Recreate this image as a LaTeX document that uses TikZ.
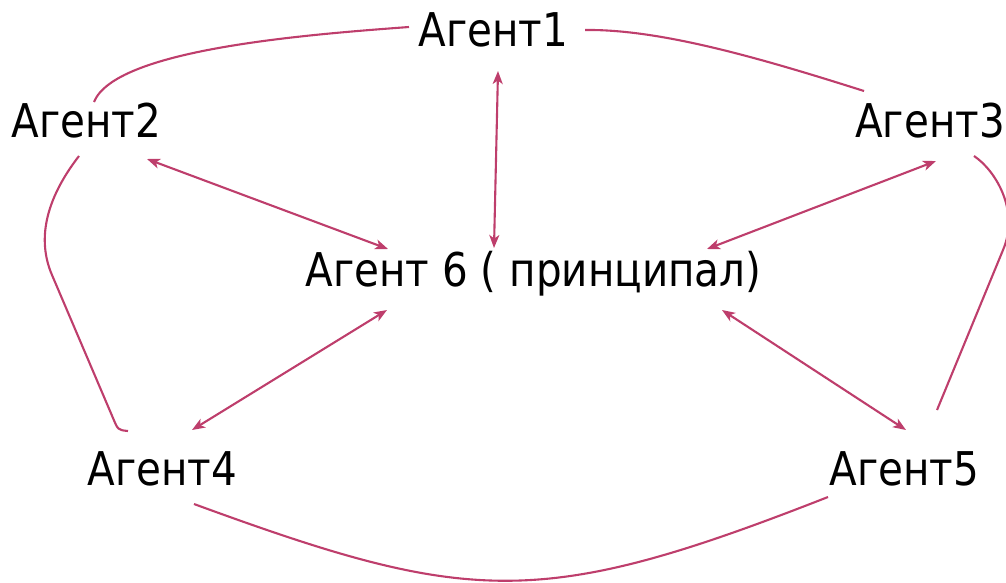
\documentclass[tikz,border=0pt]{standalone}
\usepackage{fontspec}
\setmainfont{DejaVu Sans}[FakeStretch=0.87]
\usetikzlibrary{arrows.meta,calc}
\definecolor{lc}{RGB}{190,62,108}
\begin{document}
\begin{tikzpicture}[x=1pt,y=-1pt,
  lbl/.style={inner sep=0pt, anchor=base, font=\fontsize{46.5}{52}\selectfont},
  link/.style={draw=lc, line width=2.1pt},
  dbl/.style={link, {Stealth[length=13pt,width=10pt,inset=3.5pt]}-{Stealth[length=13pt,width=10pt,inset=3.5pt]}}]
\useasboundingbox (0,0) rectangle (1006,582);
\node[lbl] (a1) at (493.5,46.7) {Агент1};
\node[lbl] (a2) at (86.5,137) {Агент2};
\node[lbl] (a3) at (930,137) {Агент3};
\node[lbl] (a6) at (533.5,286) {Агент 6 ( принципал)};
\node[lbl] (a4) at (162.5,485) {Агент4};
\node[lbl] (a5) at (904.5,485) {Агент5};
% outer ring
\draw[link] ([shift={(-84.5,-19.7)}]a1.base) .. controls +(-109,8) and +(21,-52) .. ([shift={(7.5,-35)}]a2.base);
\draw[link] ([shift={(91.5,-16.7)}]a1.base) .. controls +(75,-1) and +(-104,-33) .. ([shift={(-66,-46)}]a3.base);
\draw[link] ([shift={(-7.5,19)}]a2.base) .. controls (45,200) and (37,240) .. (52,275) -- (113,418) .. controls (118,430) .. ([shift={(-34.5,-54)}]a4.base);
\draw[link] ([shift={(44,19)}]a3.base) .. controls (995,170) and (1020,210) .. (1003,250) -- ([shift={(32.5,-75)}]a5.base);
\draw[link] ([shift={(31.5,19)}]a4.base) .. controls +(276,101) and +(-288,113) .. ([shift={(-76.5,12)}]a5.base);
% arrows to principal
\draw[dbl] ([shift={(4.5,24.3)}]a1.base) -- ([shift={(-39.5,-38)}]a6.base);
\draw[dbl] ([shift={(60.5,22)}]a2.base) -- ([shift={(-145.5,-37)}]a6.base);
\draw[dbl] ([shift={(6,24)}]a3.base) -- ([shift={(173.5,-37)}]a6.base);
\draw[dbl] ([shift={(29.5,-55)}]a4.base) -- ([shift={(-146.5,24)}]a6.base);
\draw[dbl] ([shift={(1.5,-55)}]a5.base) -- ([shift={(188.5,24)}]a6.base);
\end{tikzpicture}
\end{document}
